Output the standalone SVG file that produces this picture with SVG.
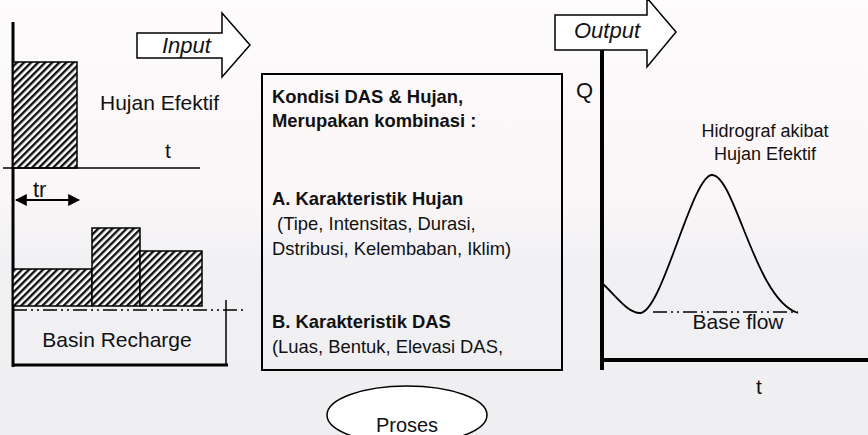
<svg xmlns="http://www.w3.org/2000/svg" width="868" height="435" viewBox="0 0 868 435">
<defs>
  <linearGradient id="bg" x1="0" y1="0" x2="0" y2="1">
    <stop offset="0" stop-color="#fdfbfb"/>
    <stop offset="0.45" stop-color="#fbf6f7"/>
    <stop offset="0.6" stop-color="#f1f1f4"/>
    <stop offset="1" stop-color="#efeff2"/>
  </linearGradient>
  <pattern id="hatch" width="5" height="5" patternUnits="userSpaceOnUse" patternTransform="rotate(45)">
    <rect width="5" height="5" fill="#ffffff"/>
    <line x1="1.2" y1="0" x2="1.2" y2="5" stroke="#111" stroke-width="2.4"/>
  </pattern>
  <marker id="ah" viewBox="0 0 10 10" refX="9" refY="5" markerWidth="6" markerHeight="6" orient="auto-start-reverse">
    <path d="M0,0 L10,5 L0,10 z" fill="#000"/>
  </marker>
</defs>
<style>
  text { font-family: "Liberation Sans", Arial, sans-serif; fill: #111; }
  .ln { stroke: #000; fill: none; }
  .ax { stroke: #000; stroke-width: 3; fill: none; }
  .bar { fill: url(#hatch); stroke: #000; stroke-width: 1.5; }
  .dd { stroke: #000; stroke-width: 1.5; fill: none; stroke-dasharray: 14 4 2 4 2 4; }
  .big { font-size: 21px; }
  .lab { font-size: 22px; }
  .box { font-size: 18.4px; }
  .sm { font-size: 18px; }
  .pr { font-size: 20px; }
  .b { font-weight: bold; }
  .it { font-style: italic; }
  .arrow { fill: #fff; stroke: #000; stroke-width: 1.5; }
</style>
<rect width="868" height="435" fill="url(#bg)"/>

<g id="input-graph">
  <line class="ax" x1="13" y1="22" x2="13" y2="367"/>
  <rect class="bar" x="13" y="62" width="64" height="106"/>
  <line class="ln" stroke-width="1.5" x1="3" y1="168" x2="200" y2="168"/>
  <text class="big" x="100" y="110">Hujan Efektif</text>
  <text class="big" x="165" y="158">t</text>
  <text class="lab" x="33" y="197">tr</text>
  <rect class="bar" x="13" y="269" width="79" height="37"/>
  <rect class="bar" x="92" y="228" width="48" height="78"/>
  <rect class="bar" x="140" y="251" width="62" height="55"/>
  <line class="dd" x1="13" y1="310" x2="246" y2="310"/>
  <line class="ln" stroke-width="1.5" x1="226" y1="300" x2="226" y2="366"/>
  <line class="ln" stroke-width="3" x1="13" y1="365" x2="228" y2="365"/>
  <text class="big" x="117" y="347" text-anchor="middle">Basin Recharge</text>
</g>

<g id="input-arrow">
  <path class="arrow" d="M137,33 H222 V13 L250,45 L222,77 V58 H137 Z"/>
  <text class="lab it" x="162" y="53">Input</text>
</g>

<g id="kondisi">
  <rect x="262" y="74" width="300" height="296" fill="none" stroke="#000" stroke-width="2"/>
  <text class="box b" x="272" y="103">Kondisi DAS &amp; Hujan,</text>
  <text class="box b" x="272" y="127">Merupakan kombinasi :</text>
  <text class="box b" x="272" y="205">A. Karakteristik Hujan</text>
  <text class="box" x="272" y="230" xml:space="preserve"> (Tipe, Intensitas, Durasi,</text>
  <text class="box" x="272" y="255">Dstribusi, Kelembaban, Iklim)</text>
  <text class="box b" x="272" y="328">B. Karakteristik DAS</text>
  <text class="box" x="272" y="353">(Luas, Bentuk, Elevasi DAS,</text>
</g>

<g id="proses">
  <ellipse cx="407" cy="415" rx="80" ry="29" fill="#fff" stroke="#000" stroke-width="1.5"/>
  <text class="pr" x="407" y="432" text-anchor="middle">Proses</text>
</g>

<g id="output-arrow">
  <path class="arrow" d="M555,15 H647 V-2 L676,32 L647,67 V50 H555 Z"/>
  <text class="lab it" x="574" y="38">Output</text>
</g>

<g id="output-graph">
  <line class="ln" stroke-width="4" x1="602" y1="50" x2="602" y2="370"/>
  <line class="ln" stroke-width="4" x1="602" y1="360" x2="868" y2="360"/>
  <text class="lab" x="576" y="98">Q</text>
  <text class="sm" x="765" y="137" text-anchor="middle">Hidrograf akibat</text>
  <text class="sm" x="765" y="160" text-anchor="middle">Hujan Efektif</text>
  <path class="ln" stroke-width="1.8" d="M602,283 C618,298 628,313 640,313 C662,313 692,175 712,175 C735,175 755,300 798,313"/>
  <line class="dd" x1="653" y1="312" x2="798" y2="312"/>
  <text class="big" x="738" y="329" text-anchor="middle">Base flow</text>
  <text class="big" x="756" y="394">t</text>
</g>

<g id="connectors">
  <line class="ln" stroke-width="2" x1="16" y1="200" x2="79" y2="200" marker-start="url(#ah)" marker-end="url(#ah)"/>
</g>
</svg>
